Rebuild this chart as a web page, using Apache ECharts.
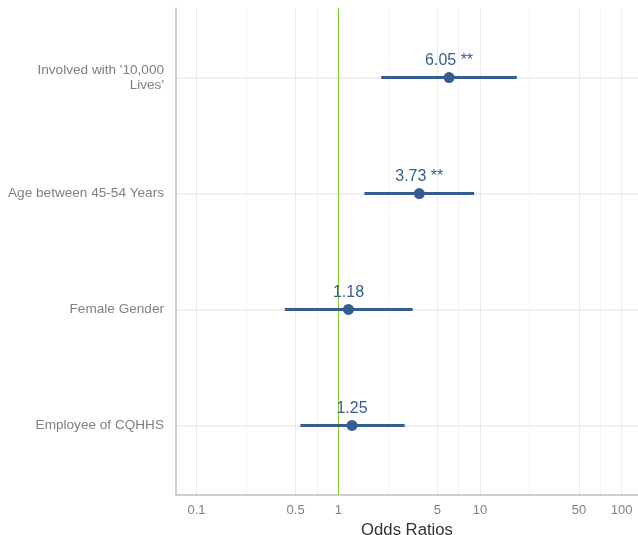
<!DOCTYPE html>
<html><head><meta charset="utf-8">
<script src="https://cdn.jsdelivr.net/npm/echarts@6/dist/echarts.min.js"></script>
<style>html,body{margin:0;padding:0;background:#fff;overflow:hidden}#c{width:638px;height:535px}</style>
</head><body><div id="c"></div>
<script>
var categories = ["Involved with '10,000\nLives'", "Age between 45-54 Years", "Female Gender", "Employee of CQHHS"];
var oddsRatios = [6.05, 3.73, 1.18, 1.25];
var ciLower = [2.01, 1.53, 0.42, 0.54];
var ciUpper = [18.2, 9.1, 3.35, 2.94];
var pointLabels = ["6.05 **", "3.73 **", "1.18", "1.25"];
var xTickValues = [0.1, 0.5, 1, 5, 10, 50, 100];
var xMinorValues = [0.2236, 0.7071, 2.236, 7.071, 22.36, 70.71];
var refValue = 1;

var n = categories.length;
function yPos(i){ return i + 1; }
var blue = '#365D92';
var xMin = 0.0716, xMax = 130.3;

var scatterData = oddsRatios.map(function(v,i){ return {value:[v, yPos(i)], label:{formatter: pointLabels[i]}}; });
var ciData = oddsRatios.map(function(v,i){ return [ciLower[i], ciUpper[i], yPos(i)]; });

var chart = echarts.init(document.getElementById('c'), null, {renderer:'canvas', width:638, height:535});
chart.setOption({
  animation:false,
  backgroundColor:'#fff',
  textStyle:{fontFamily:'Liberation Sans, Arial, sans-serif'},
  grid:{left:176, right:0, top:8, bottom:40, containLabel:false, outerBoundsMode:'none'},
  xAxis:[{
    type:'log', min:xMin, max:xMax, logBase:10,
    name:'Odds Ratios', nameLocation:'middle', nameGap:26,
    nameTextStyle:{fontSize:16.7, color:'#333333', fontFamily:'Liberation Sans, Arial, sans-serif'},
    axisLine:{show:true, lineStyle:{color:'#BEBEBE', width:1.5}},
    axisTick:{show:false, customValues:xTickValues},
    axisLabel:{customValues:xTickValues, color:'#808080', fontSize:13, margin:9,
      formatter:function(v){ return String(+Number(v).toPrecision(6)); }},
    splitLine:{show:true, lineStyle:{color:'#EBEBEB', width:1}}
  },{
    type:'log', min:xMin, max:xMax, logBase:10,
    axisLine:{show:false}, axisLabel:{show:false},
    axisTick:{show:false, customValues:xMinorValues},
    splitLine:{show:true, lineStyle:{color:'#F2F2F2', width:1}}
  }],
  yAxis:{
    type:'value', min:0.4, max:n+0.6, inverse:true, minInterval:1, maxInterval:1,
    axisLine:{show:true, lineStyle:{color:'#BEBEBE', width:1.5}},
    axisTick:{show:false},
    axisLabel:{showMinLabel:false, showMaxLabel:false, color:'#808080', fontSize:13.6, margin:12, lineHeight:15,
      formatter:function(v){ var i = Math.round(v)-1; return (Math.abs(v-Math.round(v))<1e-6 && categories[i]) ? categories[i] : ''; }},
    splitLine:{show:true, showMinLine:false, showMaxLine:false, lineStyle:{color:'#EBEBEB', width:1.5}}
  },
  series:[{
    type:'custom', xAxisIndex:0, z:3,
    renderItem:function(params, api){
      var p1 = api.coord([api.value(0), api.value(2)]);
      var p2 = api.coord([api.value(1), api.value(2)]);
      return {type:'line', shape:{x1:p1[0], y1:p1[1], x2:p2[0], y2:p2[1]}, style:{stroke:blue, lineWidth:3}};
    },
    encode:{x:[0,1], y:2},
    data:ciData
  },{
    type:'scatter', xAxisIndex:0, z:4, symbol:'circle', symbolSize:11,
    itemStyle:{color:blue, opacity:1},
    label:{show:true, position:'top', distance:3, color:blue, fontSize:16, fontFamily:'Liberation Sans, Arial, sans-serif'},
    data:scatterData,
    markLine:{silent:true, symbol:'none', label:{show:false}, z:2,
      lineStyle:{color:'#7FD02A', width:1, type:'solid'},
      data:[{xAxis:refValue}]}
  }]
});
</script></body></html>
